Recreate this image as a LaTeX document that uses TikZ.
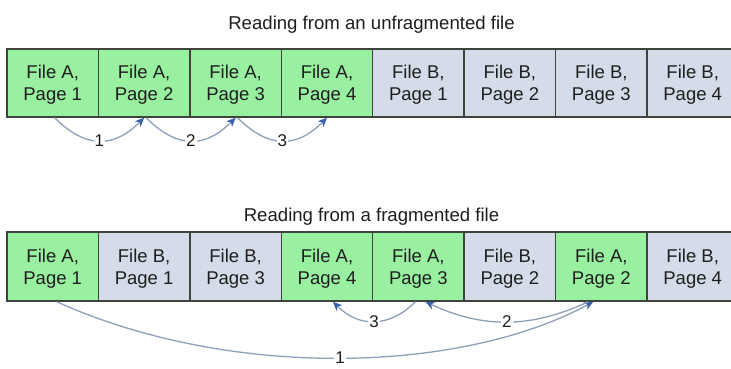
\documentclass[tikz,border=0pt]{standalone}
\usepackage{fontspec}
\setmainfont{Liberation Sans}
\usetikzlibrary{arrows.meta}
\definecolor{cellA}{HTML}{98F0A0}
\definecolor{cellB}{HTML}{D3DCE8}
\definecolor{edgec}{HTML}{3C443C}
\definecolor{linec}{HTML}{8E9FBA}
\definecolor{tipc}{HTML}{3A62AA}
\definecolor{txt}{HTML}{1E1E1E}
\begin{document}
\begin{tikzpicture}[x=1pt,y=1pt,
 cell/.style={draw=edgec,line width=1.5pt,minimum width=91.43pt,minimum height=68pt,inner sep=0pt,align=center,text=txt,text depth=0pt,font=\fontsize{18.5}{22}\selectfont},
 fa/.style={cell,fill=cellA},
 fb/.style={cell,fill=cellB},
 titlet/.style={font=\fontsize{18.6}{22}\selectfont,text=txt,anchor=base},
 arr/.style={draw=linec,line width=1.3pt,-{Stealth[length=9pt,width=8pt,inset=2.5pt,color=tipc]}},
 num/.style={font=\fontsize{17}{20}\selectfont,text=txt,fill=white,inner sep=1pt}]
\useasboundingbox[fill=white] (0,0) rectangle (731,369);

\node[titlet] (t1) at (371.5,339) {Reading from an unfragmented file};
\node[titlet] (t2) at (371.5,147) {Reading from a fragmented file};

% top row
\node[fa] (u1) at (52.7,286) {File A,\\Page 1};
\node[fa] (u2) at (144.1,286) {File A,\\Page 2};
\node[fa] (u3) at (235.6,286) {File A,\\Page 3};
\node[fa] (u4) at (327.0,286) {File A,\\Page 4};
\node[fb] (u5) at (418.4,286) {File B,\\Page 1};
\node[fb] (u6) at (509.9,286) {File B,\\Page 2};
\node[fb] (u7) at (601.3,286) {File B,\\Page 3};
\node[fb] (u8) at (692.7,286) {File B,\\Page 4};

% bottom row
\node[fa,minimum height=69pt] (f1) at (52.7,102.5) {File A,\\Page 1};
\node[fb,minimum height=69pt] (f2) at (144.1,102.5) {File B,\\Page 1};
\node[fb,minimum height=69pt] (f3) at (235.6,102.5) {File B,\\Page 3};
\node[fa,minimum height=69pt] (f4) at (327.0,102.5) {File A,\\Page 4};
\node[fa,minimum height=69pt] (f5) at (418.4,102.5) {File A,\\Page 3};
\node[fb,minimum height=69pt] (f6) at (509.9,102.5) {File B,\\Page 2};
\node[fa,minimum height=69pt] (f7) at (601.3,102.5) {File A,\\Page 2};
\node[fb,minimum height=69pt] (f8) at (692.7,102.5) {File B,\\Page 4};

% top arrows
\draw[arr] ([xshift=2pt]u1.south) to[out=-45,in=-135,looseness=1.25] node[num] (n1) {1} (u2.south);
\draw[arr] ([xshift=2pt]u2.south) to[out=-45,in=-135,looseness=1.25] node[num] (n2) {2} (u3.south);
\draw[arr] ([xshift=2pt]u3.south) to[out=-45,in=-135,looseness=1.25] node[num] (n3) {3} (u4.south);

% bottom arrows
\draw[arr] ([xshift=4pt]f1.south) .. controls +(173,-78) and +(-133,-72) .. node[num] (m1) {1} ([xshift=-8pt]f7.south);
\draw[arr] ([xshift=-13pt]f7.south) to[out=-155,in=-25] node[num] (m2) {2} ([xshift=7pt]f5.south);
\draw[arr] ([xshift=-3pt]f5.south) to[out=-135,in=-45,looseness=1.15] node[num] (m3) {3} ([xshift=6pt]f4.south);
\end{tikzpicture}
\end{document}
